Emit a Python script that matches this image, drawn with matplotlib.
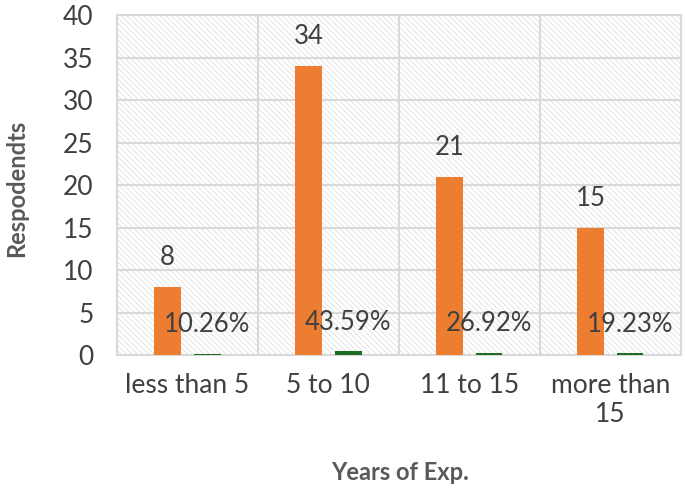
import matplotlib
matplotlib.use("Agg")
import matplotlib.pyplot as plt
import numpy as np
from matplotlib.patches import Rectangle

# data
categories = ["less than 5", "5 to 10", "11 to 15", "more than\n15"]
respondents = [8, 34, 21, 15]
share = [0.1026, 0.4359, 0.2692, 0.1923]
share_labels = ["10.26%", "43.59%", "26.92%", "19.23%"]

plt.rcParams["font.family"] = ["Lato", "DejaVu Sans"]
plt.rcParams["hatch.linewidth"] = 0.5
plt.rcParams["hatch.color"] = "#dadada"

fig = plt.figure(figsize=(6.85, 4.88), dpi=100)
ax = fig.add_axes([0.1708, 0.2725, 0.823, 0.6967])

grid_col = "#d9d9d9"
text_col = "#404040"

# hatched plot area
ax.add_patch(Rectangle((0, 0), 1, 1, transform=ax.transAxes, facecolor="white",
                       hatch="\\" * 6, edgecolor="#dadada", lw=0, zorder=0))

x = np.arange(len(categories))
w = 0.19
off = 0.14
b1 = ax.bar(x - off, respondents, w, color="#ED7D31", zorder=3)
b2 = ax.bar(x + off, share, w, color="#1E6B24", zorder=3)

ax.bar_label(b1, labels=[str(v) for v in respondents], padding=12,
             fontsize=18.5, color=text_col)
ax.bar_label(b2, labels=share_labels, padding=12, fontsize=18.5, color=text_col)

ax.set_xlim(-0.5, 3.5)
ax.set_ylim(0, 40)
ax.set_yticks(np.arange(0, 41, 5))
ax.set_xticks(x)
ax.set_xticklabels(categories)
ax.tick_params(axis="both", length=0, labelsize=19, colors=text_col)
ax.tick_params(axis="y", pad=17)
ax.tick_params(axis="x", pad=13)

for yv in np.arange(5, 40, 5):
    ax.axhline(yv, color=grid_col, lw=1.5, zorder=1)
for xv in [0.5, 1.5, 2.5]:
    ax.axvline(xv, color=grid_col, lw=1.5, zorder=1)
for s in ax.spines.values():
    s.set_color(grid_col)
    s.set_linewidth(1.5)

ax.set_ylabel("Respodendts", fontsize=17, fontweight="bold", color="#595959")
ax.set_xlabel("Years of Exp.", fontsize=17, fontweight="bold", color="#595959")
ax.yaxis.set_label_coords(-0.158, 0.49)
ax.xaxis.set_label_coords(0.502, -0.312)

fig.savefig("out.png", dpi=100)
